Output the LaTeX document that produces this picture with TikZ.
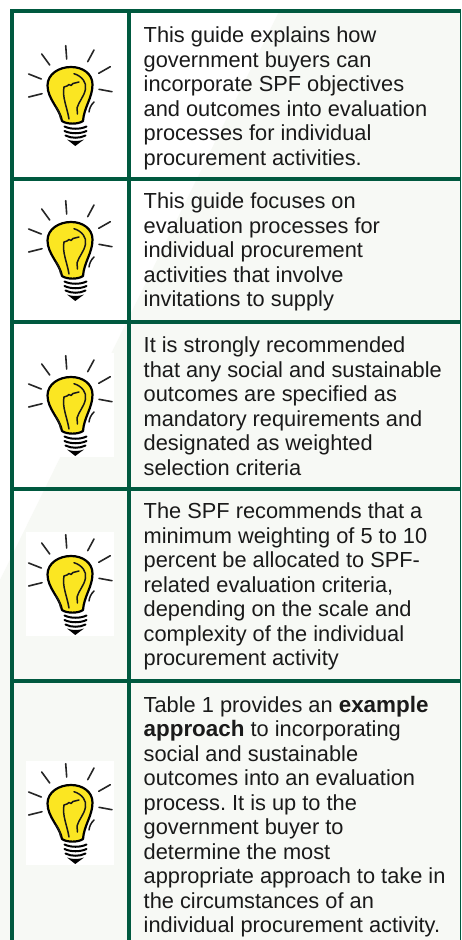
\documentclass[tikz,border=0pt]{standalone}
\usepackage{fontspec}
\setmainfont{Liberation Sans}
\definecolor{grid}{HTML}{00593F}
\definecolor{pale}{HTML}{F7F9F5}
\definecolor{bulbyellow}{HTML}{FBE622}
\definecolor{ink}{HTML}{1A1A1A}
\tikzset{
  gridline/.style={draw=grid,line width=3.7pt},
  ray/.style={draw=black!85,line width=1.6pt,line cap=round},
  wire/.style={draw=black!90,line width=1.5pt,line cap=round,line join=round},
  screw/.style={draw=black,line width=2pt,line cap=round},
  cell/.style={anchor=north west,inner sep=0pt,align=left,text=ink,font=\fontsize{21.8}{24.5}\selectfont\frenchspacing},
  imgbox/.style={fill=white,draw=none},
  bulb/.pic={
    \fill[imgbox] (0,0) rectangle (88,104);
    % rays
    \draw[ray] (39.7,2.7) -- (40.7,16);
    \draw[ray] (15.7,11) -- (23.7,22);
    \draw[ray] (68,7) -- (61.7,18.7);
    \draw[ray] (2.7,31) -- (15.3,36);
    \draw[ray] (84.3,23.7) -- (72.7,30.3);
    \draw[ray] (2.7,54) -- (16,50.7);
    \draw[ray] (73,46.3) -- (86,48.7);
    % glass
    \draw[fill=bulbyellow,draw=black,line width=2.2pt,line join=round]
      (36,78) .. controls (34,66) and (21.5,56) .. (21.5,42.5)
      .. controls (21.5,31) and (33,24) .. (45,24)
      .. controls (57,24) and (66.5,31) .. (66.5,41.5)
      .. controls (66.5,55) and (58,64) .. (57,78)
      .. controls (52,81.5) and (41,81.5) .. (36,78) -- cycle;
    % filament
    \draw[wire] (43,76) .. controls (41,64) and (36,54) .. (38,44)
      -- (41,43) -- (43,41.5) -- (45,42.5) -- (47,40.5) -- (53,39);
    \draw[wire] (48,30.7) .. controls (56,33) and (61,40) .. (59.5,46)
      .. controls (58,54) and (53,58) .. (51,65) -- (51.5,71);
    % side arcs
    \draw[wire] (30,64) .. controls (32.5,67) and (34,71) .. (34.7,75.7);
    \draw[wire] (68,59) .. controls (65,62) and (63.5,65) .. (63,69);
    % screw
    \draw[screw] (38.5,83.5) .. controls (45,86.5) and (54,86.5) .. (60.5,83.5);
    \draw[screw] (38.5,88) .. controls (45,91) and (54,91) .. (60.5,88);
    \draw[screw] (39.5,92.5) .. controls (45,95.5) and (54,95.5) .. (59.5,92.5);
    \fill[black] (41,96.5) .. controls (46,98.5) and (53,98.5) .. (58,96.5) -- (49.3,103) -- cycle;
  }
}
\begin{document}
\begin{tikzpicture}[x=1pt,y=-1pt]
\useasboundingbox (0,0) rectangle (461,940);
\fill[white] (0,0) rectangle (461,940);
% watermark
\fill[pale] (280,9.5) -- (461,9.5) -- (461,940) -- (0,940) -- (0,580) -- cycle;
% bulbs
\pic at (26,43) {bulb};
\pic at (26,198) {bulb};
\pic at (26,353) {bulb};
\pic at (26,532) {bulb};
\pic at (26,761) {bulb};
% grid
\draw[gridline] (12,940) -- (12,11) -- (460.5,11);
\draw[gridline] (129,9) -- (129,940);
\draw[draw=grid,line width=1.2pt] (460.4,9) -- (460.4,940);
\draw[gridline] (10,179.3) -- (461,179.3);
\draw[gridline] (10,322) -- (461,322);
\draw[gridline] (10,489) -- (461,489);
\draw[gridline] (10,681) -- (461,681);
% text
\node[cell] (t1) at (143.5,25.4) {\rule{0pt}{17pt}This guide explains how\\government buyers can\\incorporate SPF objectives\\and outcomes into evaluation\\processes for individual\\procurement activities.};
\node[cell] (t2) at (143.5,191.7) {\rule{0pt}{17pt}This guide focuses on\\evaluation processes for\\individual procurement\\activities that involve\\invitations to supply};
\node[cell] (t3) at (143.5,335.7) {\rule{0pt}{17pt}It is strongly recommended\\that any social and sustainable\\outcomes are specified as\\mandatory requirements and\\designated as weighted\\selection criteria};
\node[cell] (t4) at (143.5,501.7) {\rule{0pt}{17pt}The SPF recommends that a\\minimum weighting of 5 to 10\\percent be allocated to SPF-\\related evaluation criteria,\\depending on the scale and\\complexity of the individual\\procurement activity};
\node[cell] (t5) at (143.5,695.2) {\rule{0pt}{17pt}Table 1 provides an \textbf{\fontsize{22.4}{24.5}\selectfont example}\\\textbf{\fontsize{22.4}{24.5}\selectfont approach} to incorporating\\social and sustainable\\outcomes into an evaluation\\process. It is up to the\\government buyer to\\determine the most\\appropriate approach to take in\\the circumstances of an\\individual procurement activity.};
\end{tikzpicture}
\end{document}
